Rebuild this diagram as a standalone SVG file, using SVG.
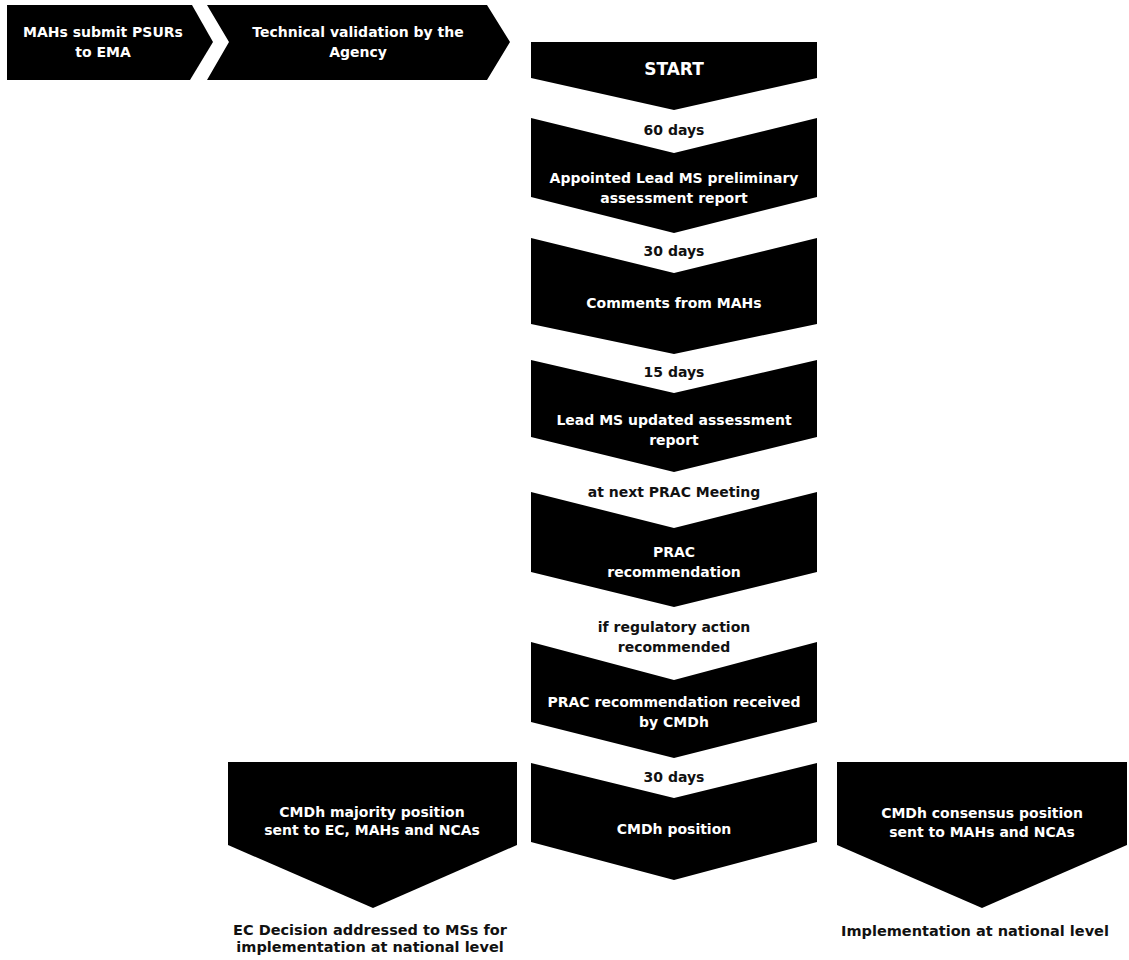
<svg xmlns="http://www.w3.org/2000/svg" width="1129" height="960" viewBox="0 0 1129 960">
<style>
.shape{fill:#000}
.t{font-family:"DejaVu Sans","Liberation Sans",sans-serif;font-weight:700;font-size:14px;text-anchor:middle}
.w{fill:#fff}
.k{fill:#111}
.big{font-size:17px}
.lbl{font-size:14.5px}
</style>
<rect width="1129" height="960" fill="#fff"/>
<g id="n-submit">
<polygon class="shape" points="7,5 192,5 213,42 190,80 7,80"/>
<text class="t w" x="103" y="37">MAHs submit PSURs</text>
<text class="t w" x="103" y="57">to EMA</text>
</g>
<g id="n-validation">
<polygon class="shape" points="207,5 487,5 510,42 487,80 207,80 229,42"/>
<text class="t w" x="358" y="37">Technical validation by the</text>
<text class="t w" x="358" y="57">Agency</text>
</g>
<g id="n-start">
<polygon class="shape" points="531,42 817,42 817,78 674,110 531,78"/>
<text class="t w big" x="674" y="75">START</text>
</g>
<g id="n-prelim">
<polygon class="shape" points="531,118 674,153 817,118 817,197 674,233 531,197"/>
<text class="t w" x="674" y="183">Appointed Lead MS preliminary</text>
<text class="t w" x="674" y="203">assessment report</text>
</g>
<g id="n-comments">
<polygon class="shape" points="531,238 674,273 817,238 817,324 674,354 531,324"/>
<text class="t w" x="674" y="308">Comments from MAHs</text>
</g>
<g id="n-updated">
<polygon class="shape" points="531,360 674,393 817,360 817,437 674,472 531,437"/>
<text class="t w" x="674" y="425">Lead MS updated assessment</text>
<text class="t w" x="674" y="445">report</text>
</g>
<g id="n-prac">
<polygon class="shape" points="531,492 674,528 817,492 817,572 674,607 531,572"/>
<text class="t w" x="674" y="557">PRAC</text>
<text class="t w" x="674" y="577">recommendation</text>
</g>
<g id="n-cmdh-received">
<polygon class="shape" points="531,642 674,680 817,642 817,722 674,758 531,722"/>
<text class="t w" x="674" y="707">PRAC recommendation received</text>
<text class="t w" x="674" y="727">by CMDh</text>
</g>
<g id="n-cmdh-position">
<polygon class="shape" points="531,763 674,798 817,763 817,842 674,880 531,842"/>
<text class="t w" x="674" y="834">CMDh position</text>
</g>
<g id="n-majority">
<polygon class="shape" points="228,762 517,762 517,845 373,908 228,845"/>
<text class="t w" x="372" y="817">CMDh majority position</text>
<text class="t w" x="372" y="835">sent to EC, MAHs and NCAs</text>
</g>
<g id="n-consensus">
<polygon class="shape" points="837,762 1127,762 1127,845 982,908 837,845"/>
<text class="t w" x="982" y="818">CMDh consensus position</text>
<text class="t w" x="982" y="837">sent to MAHs and NCAs</text>
</g>
<g id="connectors">
<text class="t k" x="674" y="135">60 days</text>
<text class="t k" x="674" y="256">30 days</text>
<text class="t k" x="674" y="377">15 days</text>
<text class="t k" x="674" y="497">at next PRAC Meeting</text>
<text class="t k" x="674" y="632">if regulatory action</text>
<text class="t k" x="674" y="652">recommended</text>
<text class="t k" x="674" y="782">30 days</text>
</g>
<g id="n-ec-decision">
<text class="t k lbl" x="370" y="935">EC Decision addressed to MSs for</text>
<text class="t k lbl" x="370" y="952">implementation at national level</text>
</g>
<g id="n-implementation">
<text class="t k lbl" x="975" y="936">Implementation at national level</text>
</g>
</svg>
